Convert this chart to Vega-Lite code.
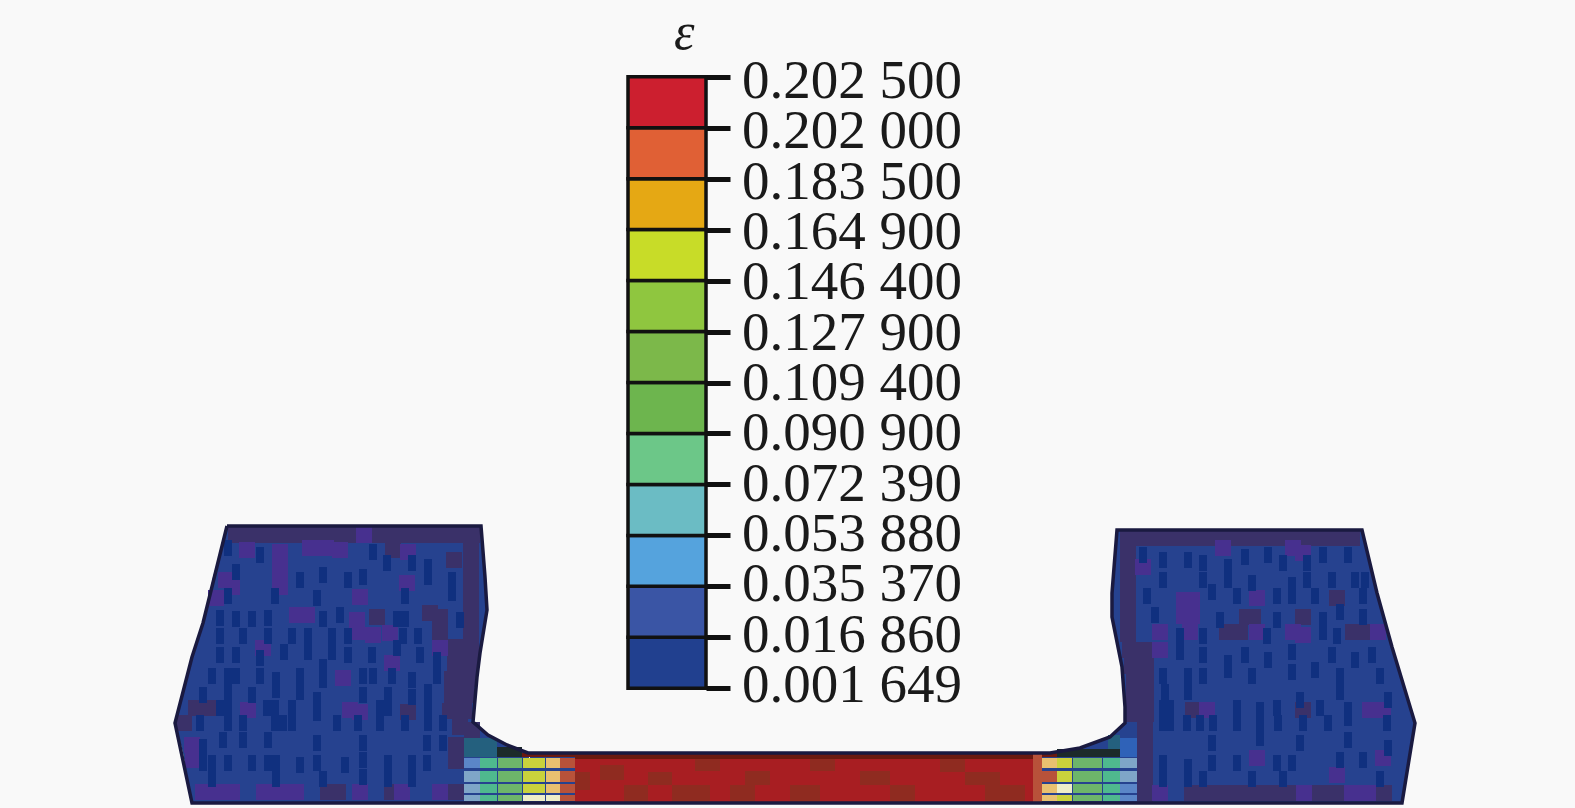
{"$schema":"https://vega.github.io/schema/vega-lite/v6.json","width":1575,"height":808,"padding":0,"autosize":{"type":"none"},"background":"#f9f9f9","view":{"stroke":null},
"datasets":{
"outline":[{"o":0,"x":227,"y":526},{"o":1,"x":481,"y":526},{"o":2,"x":485,"y":577},{"o":3,"x":487,"y":610},{"o":4,"x":480,"y":653},{"o":5,"x":477,"y":677},{"o":6,"x":473,"y":722},{"o":7,"x":488,"y":735},{"o":8,"x":507,"y":745},{"o":9,"x":528,"y":753},{"o":10,"x":1050,"y":753},{"o":11,"x":1080,"y":748},{"o":12,"x":1110,"y":737},{"o":13,"x":1125,"y":723},{"o":14,"x":1125,"y":707},{"o":15,"x":1122,"y":667},{"o":16,"x":1112,"y":617},{"o":17,"x":1112,"y":593},{"o":18,"x":1117,"y":530},{"o":19,"x":1362,"y":530},{"o":20,"x":1377,"y":593},{"o":21,"x":1392,"y":647},{"o":22,"x":1415,"y":723},{"o":23,"x":1402,"y":803},{"o":24,"x":192,"y":803},{"o":25,"x":175,"y":723},{"o":26,"x":192,"y":657},{"o":27,"x":203,"y":623},{"o":28,"x":227,"y":526}],
"solid":[{"p":"L","y":526,"l":227,"r":481},{"p":"L","y":577,"l":213,"r":485},{"p":"L","y":610,"l":206,"r":487},{"p":"L","y":623,"l":203,"r":485},{"p":"L","y":653,"l":193,"r":480},{"p":"L","y":657,"l":192,"r":480},{"p":"L","y":677,"l":186,"r":477},{"p":"L","y":722,"l":175,"r":473},{"p":"L","y":735,"l":178,"r":488},{"p":"L","y":745,"l":181,"r":507},{"p":"L","y":753,"l":183,"r":528},{"p":"L","y":803,"l":192,"r":540},
{"p":"R","y":530,"l":1117,"r":1362},{"p":"R","y":593,"l":1112,"r":1377},{"p":"R","y":617,"l":1112,"r":1384},{"p":"R","y":647,"l":1118,"r":1392},{"p":"R","y":667,"l":1122,"r":1398},{"p":"R","y":707,"l":1125,"r":1410},{"p":"R","y":723,"l":1125,"r":1415},{"p":"R","y":737,"l":1110,"r":1413},{"p":"R","y":748,"l":1080,"r":1411},{"p":"R","y":753,"l":1050,"r":1410},{"p":"R","y":803,"l":1040,"r":1402},
{"p":"M","y":753,"l":530,"r":1050},{"p":"M","y":803,"l":530,"r":1050}],
"coarse":[
{"x":236,"y":535,"t":"dusky"},{"x":252,"y":535,"t":"dusky"},{"x":268,"y":535,"t":"dusky"},{"x":284,"y":535,"t":"dusky"},{"x":300,"y":535,"t":"dusky"},{"x":316,"y":535,"t":"dusky"},{"x":332,"y":535,"t":"dusky"},{"x":348,"y":535,"t":"dusky"},{"x":364,"y":535,"t":"violet"},{"x":380,"y":535,"t":"dusky"},{"x":396,"y":535,"t":"dusky"},{"x":412,"y":535,"t":"dusky"},{"x":428,"y":535,"t":"dusky"},{"x":444,"y":535,"t":"dusky"},{"x":460,"y":535,"t":"dusky"},{"x":472,"y":535,"t":"dusky"},
{"x":471,"y":551,"t":"dusky"},{"x":471,"y":567,"t":"dusky"},{"x":471,"y":583,"t":"dusky"},{"x":471,"y":599,"t":"dusky"},{"x":471,"y":615,"t":"dusky"},{"x":471,"y":631,"t":"dusky"},{"x":471,"y":647,"t":"dusky"},{"x":471,"y":663,"t":"dusky"},{"x":468,"y":679,"t":"dusky"},{"x":466,"y":695,"t":"dusky"},{"x":464,"y":711,"t":"dusky"},{"x":460,"y":727,"t":"dusky"},{"x":455,"y":647,"t":"dusky"},{"x":455,"y":663,"t":"dusky"},{"x":452,"y":679,"t":"dusky"},{"x":452,"y":695,"t":"dusky"},{"x":450,"y":711,"t":"dusky"},{"x":454,"y":560,"t":"dusky"},{"x":456,"y":745,"t":"dusky"},{"x":456,"y":761,"t":"dusky"},
{"x":247,"y":550,"t":"violet"},{"x":280,"y":552,"t":"violet"},{"x":280,"y":562,"t":"violet"},{"x":280,"y":577,"t":"violet"},{"x":280,"y":587,"t":"violet"},{"x":310,"y":548,"t":"violet"},{"x":326,"y":548,"t":"violet"},{"x":340,"y":550,"t":"violet"},{"x":393,"y":550,"t":"dusky"},{"x":408,"y":552,"t":"violet"},{"x":226,"y":580,"t":"violet"},{"x":232,"y":587,"t":"violet"},{"x":216,"y":598,"t":"violet"},{"x":407,"y":583,"t":"violet"},{"x":360,"y":597,"t":"violet"},{"x":307,"y":615,"t":"violet"},{"x":297,"y":615,"t":"violet"},{"x":357,"y":620,"t":"violet"},{"x":357,"y":632,"t":"violet"},{"x":377,"y":617,"t":"dusky"},{"x":373,"y":635,"t":"violet"},{"x":390,"y":633,"t":"violet"},{"x":430,"y":613,"t":"dusky"},{"x":440,"y":617,"t":"dusky"},{"x":440,"y":633,"t":"dusky"},{"x":263,"y":648,"t":"violet"},{"x":440,"y":648,"t":"violet"},{"x":392,"y":663,"t":"violet"},{"x":343,"y":678,"t":"violet"},{"x":248,"y":710,"t":"violet"},{"x":196,"y":708,"t":"dusky"},{"x":208,"y":708,"t":"dusky"},{"x":350,"y":710,"t":"violet"},{"x":360,"y":712,"t":"violet"},{"x":408,"y":712,"t":"dusky"},{"x":184,"y":723,"t":"dusky"},{"x":193,"y":760,"t":"violet"},{"x":192,"y":745,"t":"violet"},
{"x":203,"y":792,"t":"violet"},{"x":216,"y":792,"t":"violet"},{"x":232,"y":792,"t":"violet"},{"x":264,"y":792,"t":"violet"},{"x":280,"y":792,"t":"violet"},{"x":296,"y":792,"t":"violet"},{"x":328,"y":792,"t":"dusky"},{"x":338,"y":792,"t":"dusky"},{"x":360,"y":792,"t":"violet"},{"x":392,"y":792,"t":"dusky"},{"x":402,"y":792,"t":"violet"},{"x":440,"y":792,"t":"violet"},{"x":456,"y":792,"t":"dusky"},
{"x":1128,"y":538,"t":"dusky"},{"x":1144,"y":538,"t":"dusky"},{"x":1160,"y":538,"t":"dusky"},{"x":1176,"y":538,"t":"dusky"},{"x":1192,"y":538,"t":"dusky"},{"x":1208,"y":538,"t":"dusky"},{"x":1224,"y":538,"t":"dusky"},{"x":1240,"y":538,"t":"dusky"},{"x":1256,"y":538,"t":"dusky"},{"x":1272,"y":538,"t":"dusky"},{"x":1288,"y":538,"t":"dusky"},{"x":1304,"y":538,"t":"dusky"},{"x":1320,"y":538,"t":"dusky"},{"x":1336,"y":538,"t":"dusky"},{"x":1352,"y":538,"t":"dusky"},
{"x":1128,"y":554,"t":"dusky"},{"x":1128,"y":570,"t":"dusky"},{"x":1128,"y":586,"t":"dusky"},{"x":1128,"y":602,"t":"dusky"},{"x":1128,"y":618,"t":"dusky"},{"x":1128,"y":634,"t":"dusky"},{"x":1130,"y":650,"t":"dusky"},{"x":1132,"y":666,"t":"dusky"},{"x":1134,"y":682,"t":"dusky"},{"x":1134,"y":698,"t":"dusky"},{"x":1134,"y":714,"t":"dusky"},{"x":1144,"y":650,"t":"dusky"},{"x":1146,"y":666,"t":"dusky"},{"x":1146,"y":682,"t":"dusky"},{"x":1146,"y":698,"t":"dusky"},{"x":1146,"y":714,"t":"dusky"},{"x":1145,"y":730,"t":"dusky"},{"x":1145,"y":746,"t":"dusky"},{"x":1145,"y":762,"t":"dusky"},{"x":1145,"y":778,"t":"dusky"},{"x":1145,"y":794,"t":"dusky"},
{"x":1143,"y":567,"t":"violet"},{"x":1184,"y":600,"t":"violet"},{"x":1184,"y":616,"t":"violet"},{"x":1192,"y":600,"t":"violet"},{"x":1192,"y":616,"t":"violet"},{"x":1223,"y":548,"t":"violet"},{"x":1293,"y":548,"t":"violet"},{"x":1303,"y":553,"t":"violet"},{"x":1257,"y":598,"t":"violet"},{"x":1337,"y":598,"t":"dusky"},{"x":1247,"y":617,"t":"dusky"},{"x":1253,"y":617,"t":"dusky"},{"x":1303,"y":617,"t":"dusky"},{"x":1160,"y":632,"t":"violet"},{"x":1190,"y":632,"t":"violet"},{"x":1227,"y":632,"t":"dusky"},{"x":1240,"y":632,"t":"dusky"},{"x":1257,"y":632,"t":"violet"},{"x":1293,"y":632,"t":"violet"},{"x":1303,"y":635,"t":"violet"},{"x":1353,"y":632,"t":"dusky"},{"x":1367,"y":632,"t":"dusky"},{"x":1378,"y":632,"t":"violet"},{"x":1160,"y":650,"t":"violet"},{"x":1193,"y":710,"t":"dusky"},{"x":1207,"y":710,"t":"violet"},{"x":1303,"y":710,"t":"dusky"},{"x":1370,"y":710,"t":"violet"},{"x":1383,"y":710,"t":"violet"},{"x":1257,"y":758,"t":"violet"},{"x":1383,"y":758,"t":"violet"},{"x":1337,"y":775,"t":"violet"},
{"x":1160,"y":793,"t":"violet"},{"x":1192,"y":793,"t":"dusky"},{"x":1208,"y":793,"t":"dusky"},{"x":1224,"y":793,"t":"dusky"},{"x":1240,"y":793,"t":"dusky"},{"x":1256,"y":793,"t":"dusky"},{"x":1272,"y":793,"t":"dusky"},{"x":1288,"y":793,"t":"dusky"},{"x":1304,"y":793,"t":"violet"},{"x":1320,"y":793,"t":"dusky"},{"x":1336,"y":793,"t":"dusky"},{"x":1352,"y":793,"t":"violet"},{"x":1368,"y":793,"t":"violet"},{"x":1384,"y":793,"t":"dusky"}
],
"fine":[{"x":228,"y":548},{"x":260,"y":555},{"x":236,"y":572},{"x":300,"y":580},{"x":323,"y":575},{"x":348,"y":580},{"x":363,"y":577},{"x":373,"y":552},{"x":387,"y":563},{"x":412,"y":563},{"x":428,"y":567},{"x":428,"y":577},{"x":452,"y":580},{"x":452,"y":593},{"x":228,"y":596},{"x":275,"y":596},{"x":317,"y":598},{"x":405,"y":596},{"x":220,"y":618},{"x":236,"y":619},{"x":252,"y":619},{"x":268,"y":618},{"x":323,"y":619},{"x":340,"y":615},{"x":397,"y":619},{"x":405,"y":619},{"x":460,"y":620},{"x":220,"y":636},{"x":243,"y":636},{"x":268,"y":636},{"x":292,"y":636},{"x":308,"y":636},{"x":332,"y":636},{"x":348,"y":636},{"x":403,"y":636},{"x":418,"y":636},{"x":220,"y":655},{"x":236,"y":655},{"x":260,"y":658},{"x":284,"y":652},{"x":308,"y":652},{"x":332,"y":652},{"x":348,"y":655},{"x":372,"y":655},{"x":397,"y":648},{"x":420,"y":655},{"x":437,"y":660},{"x":212,"y":676},{"x":228,"y":676},{"x":236,"y":676},{"x":260,"y":676},{"x":276,"y":680},{"x":300,"y":676},{"x":323,"y":667},{"x":323,"y":680},{"x":363,"y":676},{"x":373,"y":676},{"x":392,"y":676},{"x":412,"y":680},{"x":437,"y":676},{"x":203,"y":695},{"x":228,"y":692},{"x":252,"y":695},{"x":276,"y":690},{"x":300,"y":692},{"x":317,"y":700},{"x":363,"y":695},{"x":388,"y":695},{"x":412,"y":697},{"x":428,"y":692},{"x":220,"y":708},{"x":228,"y":708},{"x":267,"y":708},{"x":275,"y":708},{"x":292,"y":708},{"x":317,"y":713},{"x":380,"y":708},{"x":388,"y":708},{"x":428,"y":708},{"x":200,"y":723},{"x":228,"y":723},{"x":243,"y":723},{"x":275,"y":723},{"x":283,"y":723},{"x":292,"y":723},{"x":337,"y":723},{"x":358,"y":723},{"x":380,"y":723},{"x":405,"y":723},{"x":428,"y":723},{"x":443,"y":723},{"x":223,"y":740},{"x":243,"y":740},{"x":268,"y":740},{"x":317,"y":743},{"x":363,"y":743},{"x":427,"y":743},{"x":443,"y":743},{"x":203,"y":747},{"x":203,"y":763},{"x":212,"y":763},{"x":228,"y":763},{"x":252,"y":763},{"x":268,"y":763},{"x":276,"y":763},{"x":300,"y":765},{"x":317,"y":763},{"x":345,"y":765},{"x":363,"y":760},{"x":388,"y":763},{"x":412,"y":763},{"x":427,"y":763},{"x":212,"y":779},{"x":276,"y":779},{"x":323,"y":779},{"x":363,"y":777},{"x":388,"y":779},{"x":412,"y":779},
{"x":1143,"y":555},{"x":1163,"y":560},{"x":1188,"y":560},{"x":1203,"y":563},{"x":1228,"y":567},{"x":1245,"y":557},{"x":1268,"y":555},{"x":1283,"y":563},{"x":1307,"y":563},{"x":1323,"y":555},{"x":1348,"y":555},{"x":1163,"y":580},{"x":1203,"y":580},{"x":1228,"y":580},{"x":1252,"y":583},{"x":1292,"y":585},{"x":1307,"y":580},{"x":1332,"y":580},{"x":1355,"y":580},{"x":1365,"y":580},{"x":1212,"y":592},{"x":1237,"y":596},{"x":1277,"y":596},{"x":1292,"y":596},{"x":1315,"y":596},{"x":1363,"y":596},{"x":1147,"y":596},{"x":1155,"y":615},{"x":1220,"y":620},{"x":1277,"y":620},{"x":1323,"y":620},{"x":1340,"y":612},{"x":1363,"y":617},{"x":1180,"y":636},{"x":1203,"y":636},{"x":1267,"y":636},{"x":1323,"y":632},{"x":1337,"y":636},{"x":1180,"y":652},{"x":1203,"y":655},{"x":1228,"y":663},{"x":1245,"y":655},{"x":1268,"y":660},{"x":1292,"y":652},{"x":1332,"y":655},{"x":1355,"y":660},{"x":1372,"y":655},{"x":1163,"y":676},{"x":1188,"y":676},{"x":1203,"y":676},{"x":1228,"y":670},{"x":1252,"y":676},{"x":1292,"y":672},{"x":1315,"y":670},{"x":1340,"y":676},{"x":1380,"y":676},{"x":1165,"y":692},{"x":1188,"y":692},{"x":1340,"y":692},{"x":1300,"y":700},{"x":1388,"y":700},{"x":1163,"y":708},{"x":1170,"y":708},{"x":1237,"y":708},{"x":1260,"y":710},{"x":1277,"y":708},{"x":1320,"y":708},{"x":1348,"y":710},{"x":1163,"y":723},{"x":1170,"y":723},{"x":1187,"y":723},{"x":1200,"y":723},{"x":1213,"y":723},{"x":1237,"y":723},{"x":1260,"y":723},{"x":1278,"y":723},{"x":1303,"y":723},{"x":1328,"y":723},{"x":1348,"y":718},{"x":1387,"y":723},{"x":1212,"y":743},{"x":1260,"y":738},{"x":1300,"y":743},{"x":1348,"y":740},{"x":1388,"y":748},{"x":1163,"y":763},{"x":1188,"y":767},{"x":1212,"y":763},{"x":1237,"y":763},{"x":1277,"y":763},{"x":1292,"y":763},{"x":1340,"y":760},{"x":1363,"y":760},{"x":1163,"y":779},{"x":1188,"y":779},{"x":1203,"y":779},{"x":1252,"y":779},{"x":1283,"y":779},{"x":1380,"y":779}],
"strip":[
{"x":464,"x2":480,"y":722,"y2":738,"t":"dusky"},{"x":464,"x2":480,"y":738,"y2":757,"t":"teal"},{"x":480,"x2":497,"y":738,"y2":757,"t":"teal"},{"x":497,"x2":522,"y":747,"y2":757,"t":"dark"},{"x":522,"x2":575,"y":753,"y2":757,"t":"darkred"},
{"x":464,"x2":480,"y":758,"y2":768,"t":"steel"},{"x":464,"x2":480,"y":771,"y2":782,"t":"pale"},{"x":464,"x2":480,"y":784,"y2":793,"t":"pale"},{"x":464,"x2":480,"y":795,"y2":801,"t":"pale"},
{"x":480,"x2":497,"y":758,"y2":768,"t":"sea"},{"x":480,"x2":497,"y":771,"y2":782,"t":"sea"},{"x":480,"x2":497,"y":784,"y2":793,"t":"sea"},{"x":480,"x2":497,"y":795,"y2":801,"t":"sea"},
{"x":498,"x2":522,"y":758,"y2":768,"t":"green"},{"x":498,"x2":522,"y":771,"y2":782,"t":"green"},{"x":498,"x2":522,"y":784,"y2":793,"t":"green"},{"x":498,"x2":522,"y":795,"y2":801,"t":"green"},
{"x":523,"x2":545,"y":758,"y2":768,"t":"ylw"},{"x":523,"x2":545,"y":771,"y2":782,"t":"ylw"},{"x":523,"x2":545,"y":784,"y2":793,"t":"ylw"},{"x":523,"x2":545,"y":795,"y2":801,"t":"cream"},
{"x":546,"x2":560,"y":758,"y2":768,"t":"tan"},{"x":546,"x2":560,"y":771,"y2":782,"t":"tan"},{"x":546,"x2":560,"y":784,"y2":793,"t":"tan"},{"x":546,"x2":560,"y":795,"y2":801,"t":"cream"},
{"x":560,"x2":575,"y":758,"y2":768,"t":"rust"},{"x":560,"x2":575,"y":771,"y2":782,"t":"rust"},{"x":560,"x2":575,"y":784,"y2":793,"t":"rust"},{"x":560,"x2":575,"y":795,"y2":801,"t":"rust"},
{"x":575,"x2":1035,"y":753,"y2":759,"t":"darkred"},{"x":575,"x2":1035,"y":759,"y2":803,"t":"red"},
{"x":600,"x2":624,"y":765,"y2":780,"t":"brown"},{"x":648,"x2":672,"y":772,"y2":785,"t":"brown"},{"x":575,"x2":590,"y":772,"y2":790,"t":"brown"},{"x":624,"x2":648,"y":785,"y2":802,"t":"brown"},{"x":672,"x2":710,"y":785,"y2":802,"t":"brown"},{"x":695,"x2":720,"y":759,"y2":771,"t":"brown"},{"x":745,"x2":770,"y":771,"y2":785,"t":"brown"},{"x":730,"x2":755,"y":785,"y2":802,"t":"brown"},{"x":790,"x2":820,"y":785,"y2":802,"t":"brown"},{"x":810,"x2":835,"y":759,"y2":771,"t":"brown"},{"x":860,"x2":890,"y":771,"y2":785,"t":"brown"},{"x":890,"x2":915,"y":785,"y2":802,"t":"brown"},{"x":940,"x2":965,"y":759,"y2":772,"t":"brown"},{"x":965,"x2":1000,"y":772,"y2":785,"t":"brown"},{"x":985,"x2":1025,"y":785,"y2":802,"t":"brown"},
{"x":1033,"x2":1042,"y":753,"y2":802,"t":"rust"},{"x":1042,"x2":1057,"y":753,"y2":757,"t":"darkred"},{"x":1057,"x2":1120,"y":749,"y2":757,"t":"dark"},
{"x":1042,"x2":1057,"y":758,"y2":768,"t":"tan"},{"x":1042,"x2":1057,"y":771,"y2":782,"t":"rust"},{"x":1042,"x2":1057,"y":784,"y2":793,"t":"tan"},{"x":1042,"x2":1057,"y":795,"y2":801,"t":"tan"},
{"x":1057,"x2":1072,"y":758,"y2":768,"t":"ylw"},{"x":1057,"x2":1072,"y":771,"y2":782,"t":"ylw"},{"x":1057,"x2":1072,"y":784,"y2":793,"t":"cream"},{"x":1057,"x2":1072,"y":795,"y2":801,"t":"ylw"},
{"x":1073,"x2":1102,"y":758,"y2":768,"t":"green"},{"x":1073,"x2":1102,"y":771,"y2":782,"t":"green"},{"x":1073,"x2":1102,"y":784,"y2":793,"t":"green"},{"x":1073,"x2":1102,"y":795,"y2":801,"t":"green"},
{"x":1103,"x2":1120,"y":758,"y2":768,"t":"sea"},{"x":1103,"x2":1120,"y":771,"y2":782,"t":"sea"},{"x":1103,"x2":1120,"y":784,"y2":793,"t":"sea"},{"x":1103,"x2":1120,"y":795,"y2":801,"t":"sea"},
{"x":1120,"x2":1137,"y":738,"y2":757,"t":"blue"},{"x":1120,"x2":1137,"y":758,"y2":768,"t":"pale"},{"x":1120,"x2":1137,"y":771,"y2":782,"t":"pale"},{"x":1120,"x2":1137,"y":784,"y2":793,"t":"steel"},{"x":1120,"x2":1137,"y":795,"y2":801,"t":"steel"},{"x":1108,"x2":1120,"y":735,"y2":749,"t":"teal"}
],
"bar":[{"lo":0,"hi":1},{"lo":1,"hi":2},{"lo":2,"hi":3},{"lo":3,"hi":4},{"lo":4,"hi":5},{"lo":5,"hi":6},{"lo":6,"hi":7},{"lo":7,"hi":8},{"lo":8,"hi":9},{"lo":9,"hi":10},{"lo":10,"hi":11},{"lo":11,"hi":12}],
"labels":[{"pos":0.06,"label":"0.001 649"},{"pos":1.048,"label":"0.016 860"},{"pos":2.037,"label":"0.035 370"},{"pos":3.025,"label":"0.053 880"},{"pos":4.013,"label":"0.072 390"},{"pos":5.002,"label":"0.090 900"},{"pos":5.99,"label":"0.109 400"},{"pos":6.978,"label":"0.127 900"},{"pos":7.967,"label":"0.146 400"},{"pos":8.955,"label":"0.164 900"},{"pos":9.943,"label":"0.183 500"},{"pos":10.932,"label":"0.202 000"},{"pos":11.92,"label":"0.202 500"}]
},
"layer":[
{"layer":[
{"data":{"name":"solid"},"mark":{"type":"area","orient":"horizontal","fill":"#26428f"},"encoding":{"y":{"field":"y","type":"quantitative","scale":{"domain":[808,0],"range":[808,0],"nice":false,"zero":false},"axis":null},"x":{"field":"l","type":"quantitative","scale":{"domain":[0,1575],"range":[0,1575],"nice":false,"zero":false},"axis":null},"x2":{"field":"r"},"detail":{"field":"p"}}},
{"data":{"name":"strip"},"mark":{"type":"rect"},"encoding":{"x":{"field":"x","type":"quantitative"},"x2":{"field":"x2"},"y":{"field":"y","type":"quantitative"},"y2":{"field":"y2"},"color":{"field":"t","type":"nominal","legend":null,"scale":{"domain":["dusky","violet","navy","teal","steel","pale","blue","sea","green","ylw","cream","tan","rust","red","brown","darkred","dark"],"range":["#3a3169","#47308f","#10307f","#24607e","#5b86c8","#7fa6c8","#2f62b8","#4fb98e","#6db56a","#c9d23c","#eeeec8","#e8c070","#b8523a","#a81e22","#8f2b20","#6b1a10","#1c2a2a"]}}}},
{"data":{"name":"coarse"},"mark":{"type":"rect","width":16,"height":16},"encoding":{"x":{"field":"x","type":"quantitative"},"y":{"field":"y","type":"quantitative"},"color":{"field":"t","type":"nominal","legend":null}}},
{"data":{"name":"fine"},"mark":{"type":"rect","width":8,"height":16,"fill":"#10307f"},"encoding":{"x":{"field":"x","type":"quantitative"},"y":{"field":"y","type":"quantitative"}}},
{"data":{"name":"outline"},"mark":{"type":"line","stroke":"#1a1a40","strokeWidth":3.5},"encoding":{"x":{"field":"x","type":"quantitative"},"y":{"field":"y","type":"quantitative"},"order":{"field":"o","type":"ordinal"}}}
]},
{"layer":[
{"data":{"name":"bar"},"mark":{"type":"rect","stroke":"#111111","strokeWidth":3.5},"encoding":{
"x":{"datum":0,"type":"quantitative","scale":{"domain":[0,1],"range":[628,706],"nice":false},"axis":null},"x2":{"datum":1},
"y":{"field":"lo","type":"quantitative","scale":{"domain":[0,12],"range":[688.3,76.7],"nice":false},"axis":{"orient":"right","offset":-869,"title":null,"values":[0,1,2,3,4,5,6,7,8,9,10,11,12],"domain":false,"grid":false,"tickSize":24,"tickWidth":5,"tickColor":"#111111","labels":false}},"y2":{"field":"hi"},
"color":{"field":"lo","type":"ordinal","legend":null,"scale":{"domain":[0,1,2,3,4,5,6,7,8,9,10,11],"range":["#21408f","#3a55a5","#55a3dd","#6bbcc4","#6cc788","#6db54e","#7cb84a","#8fc63f","#c8dc28","#e5a814","#e06035","#cc1f2f"]}}}},
{"data":{"name":"labels"},"mark":{"type":"text","align":"left","baseline":"middle","font":"Liberation Serif","fontSize":55,"color":"#1a1a1a","dx":36},"encoding":{"x":{"datum":1,"type":"quantitative"},"y":{"field":"pos","type":"quantitative"},"text":{"field":"label"}}},
{"data":{"values":[{"symbol":"ε"}]},"mark":{"type":"text","font":"Liberation Serif","fontStyle":"italic","fontSize":52,"color":"#1a1a1a","dy":-44},"encoding":{"x":{"datum":0.72,"type":"quantitative"},"y":{"datum":12,"type":"quantitative"},"text":{"field":"symbol"}}}
]}
],
"resolve":{"scale":{"x":"independent","y":"independent","color":"independent"},"axis":{"x":"independent","y":"independent"}}}
